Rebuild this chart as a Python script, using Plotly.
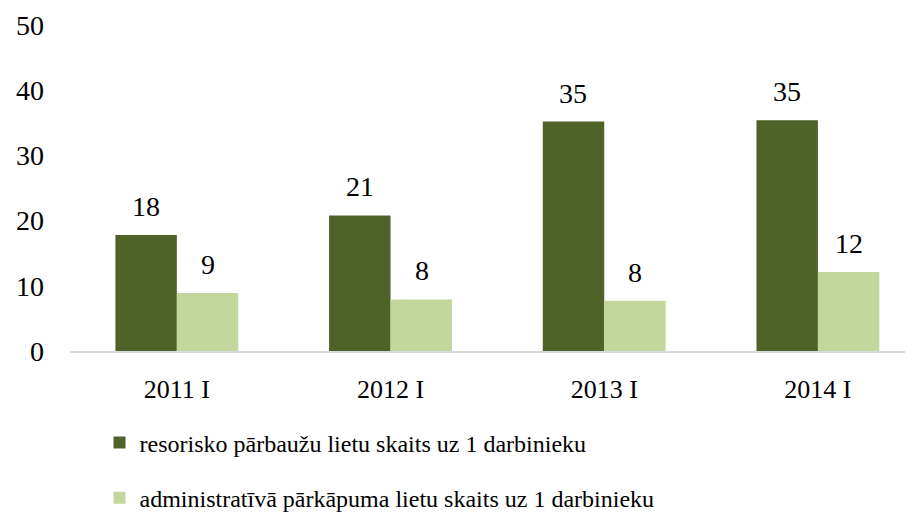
import plotly.graph_objects as go

categories = ["2011 I", "2012 I", "2013 I", "2014 I"]
series_names = [
    "resorisko pārbaužu lietu skaits uz 1 darbinieku",
    "administratīvā pārkāpuma lietu skaits uz 1 darbinieku",
]
resorisko = [17.8, 20.8, 35.2, 35.4]
administrativa = [8.9, 7.9, 7.7, 12.1]
resorisko_labels = ["18", "21", "35", "35"]
administrativa_labels = ["9", "8", "8", "12"]
y_ticks = [0, 10, 20, 30, 40, 50]

dark = "#4F6228"
light = "#C3D69B"
font_family = "Liberation Serif"

fig = go.Figure()
fig.add_trace(go.Bar(x=categories, y=resorisko, name=series_names[0],
                     marker=dict(color=dark, line=dict(width=0)), legendgroup="a"))
fig.add_trace(go.Bar(x=categories, y=administrativa, name=series_names[1],
                     marker=dict(color=light, line=dict(width=0)), legendgroup="b"))

annotations = []
for cat, v, t in zip(categories, resorisko, resorisko_labels):
    annotations.append(dict(x=cat, y=v, text=t, xshift=-31, yshift=11, yanchor="bottom",
                            showarrow=False, font=dict(size=28, color="black", family=font_family)))
for cat, v, t in zip(categories, administrativa, administrativa_labels):
    annotations.append(dict(x=cat, y=v, text=t, xshift=31, yshift=11, yanchor="bottom",
                            showarrow=False, font=dict(size=28, color="black", family=font_family)))

fig.update_layout(
    width=905, height=507,
    margin=dict(l=62, r=0, t=17, b=164, autoexpand=False),
    paper_bgcolor="white", plot_bgcolor="white",
    barmode="group", bargap=0.425, bargroupgap=0,
    font=dict(family=font_family, size=24, color="black"),
    annotations=annotations,
    showlegend=True,
    legend=dict(orientation="v", x=0.035, xanchor="left", y=-0.52, yanchor="bottom",
                font=dict(size=24, family=font_family), traceorder="grouped",
                tracegroupgap=21, itemwidth=30, bgcolor="rgba(0,0,0,0)"),
    xaxis=dict(type="category", range=[-0.5, 3.445], showline=True, linecolor="#D9D9D9",
               linewidth=2, ticks="", showgrid=False, ticklabelstandoff=14, automargin=False,
               tickangle=0, tickfont=dict(size=26, family=font_family)),
    yaxis=dict(range=[0, 50], tickvals=y_ticks, showgrid=False, zeroline=False, showline=False,
               ticks="", ticklabelstandoff=25, automargin=False,
               tickfont=dict(size=28, family=font_family)),
)

fig.write_html("out.html")
